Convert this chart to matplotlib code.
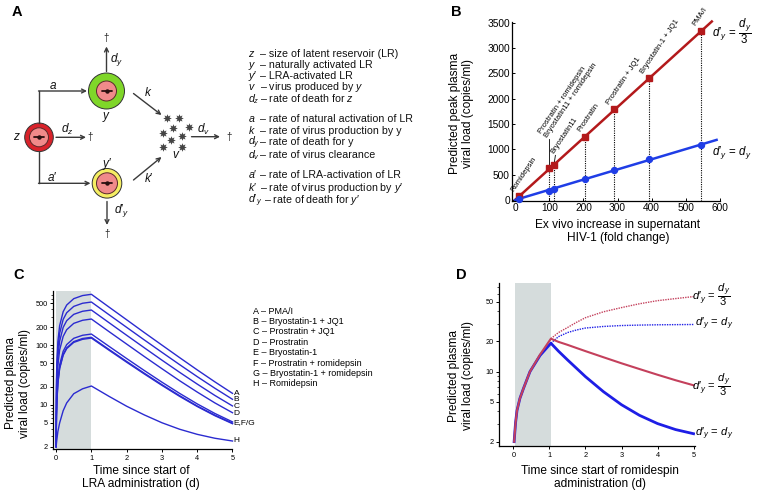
import matplotlib
matplotlib.use("Agg")
import matplotlib.pyplot as plt
from matplotlib.patches import Circle
from matplotlib.ticker import FixedLocator, FixedFormatter, NullFormatter

plt.rcParams['font.family'] = ['Liberation Sans', 'DejaVu Sans']
plt.rcParams['mathtext.fontset'] = 'custom'
plt.rcParams['mathtext.rm'] = 'Liberation Sans'
plt.rcParams['mathtext.it'] = 'Liberation Sans:italic'
plt.rcParams['mathtext.bf'] = 'Liberation Sans:bold'

# ---------------- data ----------------
# Panel B
fold_change = [12, 99.5, 114, 205, 291, 391, 544]
peak_dy3 = [79, 625, 690, 1250, 1790, 2400, 3335]
peak_dy = [20, 184, 224, 408, 585, 803, 1092]
fit_red_x = [0, 576]
fit_red_y = [0, 3520]
fit_blue_x = [0, 590]
fit_blue_y = [0, 1185]
lra_labels_B = ["Romidepsin", "Prostratin + romidepsin\nBryostatin11 + romidepsin",
                "Bryostatin11", "Prostratin", "Prostratin + JQ1",
                "Bryostatin-1 + JQ1", "PMA/I"]
xticks_B = [0, 100, 200, 300, 400, 500, 600]
yticks_B = [0, 500, 1000, 1500, 2000, 2500, 3000, 3500]

# Panel C
t_rise_C = [0, 0.01, 0.02, 0.05, 0.1, 0.2, 0.3, 0.5, 0.75, 1.0]
t_decay_C = [1.5, 2, 2.5, 3, 3.5, 4, 4.5, 5]
curve_keys_C = ["A", "B", "C", "D", "E", "F", "G", "H"]
rise_C = {
    "A": [2, 26.4, 49.9, 116, 212, 362, 468, 598, 674, 707],
    "B": [2, 20.1, 37.6, 86.6, 158, 269, 348, 444, 501, 525],
    "C": [2, 15.3, 28.1, 64.1, 116.5, 198, 256, 327, 368, 386],
    "D": [2, 11.4, 20.4, 45.8, 82.8, 140, 181, 231, 260, 273],
    "E": [2, 7.2, 12.3, 26.4, 47, 79, 102, 130, 146, 153],
    "F": [2, 6.6, 11.0, 23.5, 41.7, 70, 90, 114.5, 129, 135],
    "G": [2, 6.5, 10.8, 22.9, 40.5, 67.8, 87.3, 111, 125, 131],
    "H": [2, 2.3, 2.6, 3.6, 5.0, 8.0, 10.8, 15.4, 18.6, 20.7],
}
decay_C = {
    "A": [432, 265, 162, 100, 61.8, 38.5, 24.3, 15.6],
    "B": [322, 198, 122, 75.7, 47.2, 29.7, 19.0, 12.4],
    "C": [237, 146, 90.2, 56, 35.1, 22.3, 14.4, 9.6],
    "D": [168, 104, 64.4, 40.3, 25.4, 16.4, 10.8, 7.4],
    "E": [95.3, 59.6, 37.6, 24.0, 15.6, 10.4, 7.2, 5.2],
    "F": [84.6, 53.3, 33.9, 21.8, 14.3, 9.6, 6.75, 4.95],
    "G": [82.1, 51.7, 32.9, 21.2, 13.9, 9.4, 6.6, 4.85],
    "H": [13.9, 9.5, 6.8, 5.03, 3.92, 3.22, 2.77, 2.49],
}
end_labels_C = ["A", "B", "C", "D", "E,F/G", "H"]
end_label_vals_C = [15.6, 12.3, 9.3, 7.1, 5.0, 2.5]
legend_C = ["A – PMA/I", "B – Bryostatin-1 + JQ1", "C – Prostratin + JQ1",
            "D – Prostratin", "E – Bryostatin-1", "F – Prostratin + romidepsin",
            "G – Bryostatin-1 + romidepsin", "H – Romidepsin"]
yticks_C = [2, 5, 10, 20, 50, 100, 200, 500]

# Panel D
t_rise_D = [0.02, 0.04, 0.06, 0.1, 0.18, 0.28, 0.46, 0.74, 1.04]
blue_rise_D = [2.0, 2.5, 3.1, 4.1, 5.4, 6.8, 10.0, 14.5, 19.2]
red_rise_D = [2.0, 2.5, 3.1, 4.1, 5.4, 6.8, 10.0, 14.8, 21.3]
t_after_D = [1.04, 1.25, 1.5, 1.75, 2, 2.5, 3, 3.5, 4, 4.5, 5]
blue_decay_D = [19.2, 16.0, 13.1, 10.8, 8.9, 6.3, 4.67, 3.66, 3.03, 2.64, 2.4]
red_decay_D = [21.3, 19.8, 18.5, 17.2, 16.0, 13.9, 12.1, 10.6, 9.3, 8.2, 7.3]
red_cont_D = [21.3, 24.5, 27.5, 31.0, 34.5, 39.5, 43.5, 47.5, 51, 53.5, 56]
blue_cont_D = [19.2, 22.3, 24.5, 26.0, 27.2, 28.2, 28.8, 29.1, 29.3, 29.4, 29.5]
yticks_D = [2, 5, 10, 20, 50]

# ---------------- figure ----------------
W, H = 759, 496
fig = plt.figure(figsize=(W / 100, H / 100), dpi=100)
fig.patch.set_facecolor('white')


def px_axes(l, t, r, b):
    return fig.add_axes([l / W, 1 - b / H, (r - l) / W, (b - t) / H])


def style_axes(ax, tick_fs, direction='out'):
    for s in ['top', 'right']:
        ax.spines[s].set_visible(False)
    for s in ['left', 'bottom']:
        ax.spines[s].set_linewidth(0.9)
    ax.tick_params(which='major', labelsize=tick_fs, length=2.5, width=0.7,
                   pad=1.5, direction=direction)
    ax.tick_params(which='minor', length=1.5, width=0.5, direction=direction)


ov = fig.add_axes([0, 0, 1, 1])
ov.set_xlim(0, W)
ov.set_ylim(H, 0)
ov.axis('off')
ov.patch.set_alpha(0)
ov.set_zorder(5)

P = '\u2032'  # prime

# ---------------- Panel A ----------------
LC = '#3a3a3a'
AFS = 8.5


def cell(x, y, r_out, r_in, col):
    ov.add_patch(Circle((x, y), r_out, facecolor=col, edgecolor='#333333', lw=0.7))
    ov.add_patch(Circle((x, y), r_in, facecolor='#f08a8a', edgecolor='#5a2a2a', lw=0.7))
    ov.plot([x - r_in * 0.5, x + r_in * 0.5], [y, y], color='#2a1010', lw=1.3,
            solid_capstyle='round')
    ov.plot([x], [y], 'o', ms=2.2, color='#2a1010')


def arrow(p0, p1):
    ov.annotate('', xy=p1, xytext=p0,
                arrowprops=dict(arrowstyle='->', color=LC, lw=1.0,
                                shrinkA=0, shrinkB=0, mutation_scale=7))


zc, yc, ypc = (39, 137.3), (106.5, 91), (107, 183.3)
cell(*zc, 14.3, 9.5, '#d9222a')
cell(*yc, 18, 10, '#7fd629')
cell(*ypc, 14.8, 10.5, '#f5ee63')

ov.plot([zc[0], zc[0]], [zc[1] - 14.3, yc[1]], color=LC, lw=1.0)
arrow((zc[0] - 0.5, yc[1]), (yc[0] - 19.5, yc[1]))
ov.plot([zc[0], zc[0]], [zc[1] + 14.3, ypc[1]], color=LC, lw=1.0)
arrow((zc[0] - 0.5, ypc[1]), (ypc[0] - 16.5, ypc[1]))
arrow((56, 137.3), (86, 137.3))
ov.text(90.5, 137.3, '†', fontsize=7, ha='center', va='center', color='#222')
arrow((106.5, 71.5), (106.5, 46.5))
ov.text(106.5, 38.5, '†', fontsize=7, ha='center', va='center', color='#222')
arrow((107, 201.5), (107, 225))
ov.text(107, 233.5, '†', fontsize=7, ha='center', va='center', color='#222')
arrow((133.5, 93.5), (161.5, 115))
arrow((133.5, 180), (161.5, 157))
arrow((191.5, 136.7), (220, 136.7))
ov.text(229.5, 136.7, '†', fontsize=7, ha='center', va='center', color='#222')

vx = [166.7, 179.3, 173.3, 189.3, 163.3, 181.7, 170.7, 162.7, 181.7]
vy = [118.3, 118.3, 128.3, 127.3, 132.7, 136, 140, 146.7, 146.7]
ov.plot(vx, vy, linestyle='none', marker=(8, 1, 0), ms=5.5, color='#444444',
        markeredgewidth=0.3)

diag_labels = [
    (16.5, 137.3, r'$z$'), (106.5, 117.5, r'$y$'), (107.5, 163.5, '$y' + P + '$'),
    (176.5, 155.5, r'$v$'), (53.5, 86, r'$a$'), (52, 177.5, '$a' + P + '$'),
    (148.5, 92.5, r'$k$'), (148.5, 178, '$k' + P + '$'), (67, 129.5, r'$d_z$'),
    (117, 60, r'$d_y$'), (121.5, 210.5, '$d' + P + '_y$'), (203.5, 129, r'$d_v$'),
]
for x, y, s in diag_labels:
    ov.text(x, y, s, fontsize=AFS, ha='center', va='center', color='#111')

legA = [
    (r'$z$', '– size of latent reservoir (LR)', 54),
    (r'$y$', '– naturally activated LR', 65),
    ('$y' + P + '$', '– LRA-activated LR', 76),
    (r'$v$', r'– virus produced by $y$', 87.3),
    (r'$d_z$', r'– rate of death for $z$', 99),
    (r'$a$', '– rate of natural activation of LR', 119),
    (r'$k$', '– rate of virus production by y', 130.7),
    (r'$d_y$', '– rate of death for y', 142.3),
    (r'$d_v$', '– rate of virus clearance', 155),
    ('$a' + P + '$', '– rate of LRA-activation of LR', 175),
    ('$k' + P + '$', '– rate of virus production by $y' + P + '$', 187.7),
    ('$d' + P + '_y$', '– rate of death for $y' + P + '$', 200),
]
for sym, txt, y in legA:
    ov.text(248.5, y + 3, sym, fontsize=7.7, ha='left', va='baseline', color='#111')
    ov.text(263.5 if sym.startswith('$d' + P) else 260.5, y + 3, txt, fontsize=7.7,
            ha='left', va='baseline', color='#111')

# ---------------- Panel B ----------------
RED_B = '#b3191b'
BLUE_B = '#1f3de6'
axB = px_axes(512, 22, 720, 201)
axB.set_xlim(-9, 600)
axB.set_ylim(-20, 3510)
style_axes(axB, 7.3, 'in')
ymin_B = axB.get_ylim()[0]
for xi, yi in zip(fold_change, peak_dy3):
    axB.plot([xi, xi], [ymin_B, yi], color='k', lw=0.8, ls=(0, (1, 1.1)), zorder=1)
axB.plot(fit_red_x, fit_red_y, color=RED_B, lw=1.8, zorder=2, clip_on=False)
axB.plot(fit_blue_x, fit_blue_y, color=BLUE_B, lw=1.8, zorder=2, clip_on=False)
axB.plot(fold_change, peak_dy3, 's', ms=4.8, color=RED_B, zorder=3, clip_on=False)
axB.plot(fold_change, peak_dy, 'o', ms=4.3, color=BLUE_B, zorder=3, clip_on=False)
axB.set_xticks(xticks_B)
axB.set_yticks(yticks_B)

ROT = 56
for i, (xi, yi, lab) in enumerate(zip(fold_change, peak_dy3, lra_labels_B)):
    if i == 1:
        top = yi + 575
        axB.plot([xi, xi], [yi, top], color='k', lw=0.6, zorder=2)
        axB.text(xi, top, lab, rotation=ROT, rotation_mode='anchor', ha='left',
                 va='bottom', fontsize=5.5, linespacing=1.05)
    elif i == 2:
        tx, ty = xi + 4, yi + 190
        axB.plot([xi, tx], [yi, ty], color='k', lw=0.6, zorder=2)
        axB.text(tx, ty, lab, rotation=ROT, rotation_mode='anchor', ha='left',
                 va='bottom', fontsize=5.5)
    else:
        axB.annotate(lab, (xi, yi), xytext=(-2.5, 2.5), textcoords='offset points',
                     rotation=ROT, rotation_mode='anchor', ha='left', va='bottom',
                     fontsize=5.5)

ov.text(461.5, 113, 'Predicted peak plasma\nviral load (copies/ml)', rotation=90,
        ha='center', va='center', fontsize=8.6, linespacing=1.15)
ov.text(618, 231.5, 'Ex vivo increase in supernatant\nHIV-1 (fold change)',
        ha='center', va='center', fontsize=8.6, linespacing=1.15)

frac_lab = '$d' + P + r'_y\,=\,\dfrac{d_y}{3}$'
eq_lab = '$d' + P + r'_y\,=\,d_y$'
ov.text(711.5, 31.5, frac_lab, ha='left', va='center', fontsize=8.3)
ov.text(711.5, 153, eq_lab, ha='left', va='center', fontsize=8.3)

# ---------------- Panel C ----------------
BLUE_C = '#2b2bd0'
axC = px_axes(53.3, 291, 232.5, 449.3)
axC.set_yscale('log')
axC.set_xlim(-0.08, 5.0)
axC.set_ylim(1.81, 803)
style_axes(axC, 5.3)
axC.axvspan(0, 1, color='#d5dcdc', lw=0, zorder=0)
for key in curve_keys_C:
    axC.plot(t_rise_C + t_decay_C, rise_C[key] + decay_C[key], color=BLUE_C,
             lw=1.0, clip_on=False, zorder=2)
axC.yaxis.set_major_locator(FixedLocator(yticks_C))
axC.yaxis.set_major_formatter(FixedFormatter([str(v) for v in yticks_C]))
axC.yaxis.set_minor_locator(FixedLocator([3, 4, 6, 7, 8, 9, 30, 40, 60, 70, 80, 90,
                                          300, 400, 600, 700]))
axC.yaxis.set_minor_formatter(NullFormatter())
axC.set_xticks([0, 1, 2, 3, 4, 5])
for lab, v in zip(end_labels_C, end_label_vals_C):
    axC.text(5.03, v, lab, fontsize=6, ha='left', va='center', clip_on=False)
for i, s in enumerate(legend_C):
    ov.text(253, 311 + i * 10.4, s, fontsize=6.5, ha='left', va='center')
ov.text(18, 383, 'Predicted plasma\nviral load (copies/ml)', rotation=90,
        ha='center', va='center', fontsize=8.6, linespacing=1.15)
ov.text(141, 477.5, 'Time since start of\nLRA administration (d)',
        ha='center', va='center', fontsize=8.6, linespacing=1.15)

# ---------------- Panel D ----------------
BLUE_D = '#1e1ee6'
RED_D = '#c4405c'
axD = px_axes(499, 283.3, 695, 446)
axD.set_yscale('log')
axD.set_xlim(-0.4, 5.04)
axD.set_ylim(1.81, 76)
style_axes(axD, 5.3)
axD.axvspan(0.05, 1.05, color='#d5dcdc', lw=0, zorder=0)
axD.plot(t_after_D, red_cont_D, color=RED_D, lw=1.0, ls=(0, (1, 0.8)), zorder=2)
axD.plot(t_after_D, blue_cont_D, color=BLUE_D, lw=1.0, ls=(0, (1, 0.8)), zorder=2)
axD.plot(t_rise_D + t_after_D[1:], blue_rise_D + blue_decay_D[1:], color=BLUE_D,
         lw=2.0, zorder=3)
axD.plot(t_rise_D + t_after_D[1:], red_rise_D + red_decay_D[1:], color=RED_D,
         lw=1.5, zorder=4)
axD.yaxis.set_major_locator(FixedLocator(yticks_D))
axD.yaxis.set_major_formatter(FixedFormatter([str(v) for v in yticks_D]))
axD.yaxis.set_minor_locator(FixedLocator([3, 4, 6, 7, 8, 9, 30, 40, 60, 70]))
axD.yaxis.set_minor_formatter(NullFormatter())
axD.set_xticks([0, 1, 2, 3, 4, 5])
ov.text(461, 376, 'Predicted plasma\nviral load (copies/ml)', rotation=90,
        ha='center', va='center', fontsize=8.6, linespacing=1.15)
ov.text(600, 477.5, 'Time since start of romidespin\nadministration (d)',
        ha='center', va='center', fontsize=8.6, linespacing=1.15)
ov.text(692, 295, frac_lab, ha='left', va='center', fontsize=8.0)
ov.text(695, 323.5, eq_lab, ha='left', va='center', fontsize=8.0)
ov.text(692, 385, frac_lab, ha='left', va='center', fontsize=8.0)
ov.text(695, 434, eq_lab, ha='left', va='center', fontsize=8.0)

# ---------------- panel letters ----------------
for x, y, s in [(17, 12, 'A'), (456.5, 12, 'B'), (18.5, 275, 'C'), (461.5, 275, 'D')]:
    ov.text(x, y, s, fontsize=10.5, fontweight='bold', ha='center', va='center')

fig.savefig('out.png', dpi=100, facecolor='white')
